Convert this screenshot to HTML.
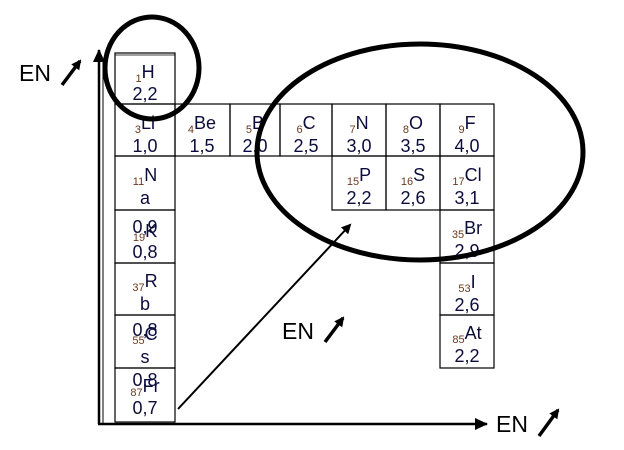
<!DOCTYPE html>
<html><head><style>html,body{margin:0;padding:0;background:#fff;width:624px;height:450px;overflow:hidden}</style></head>
<body>
<svg width="624" height="450" xmlns="http://www.w3.org/2000/svg" font-family="Liberation Sans, sans-serif">
<defs>
<marker id="ah" markerWidth="10" markerHeight="10" refX="8" refY="5" orient="auto" markerUnits="userSpaceOnUse"><path d="M0,0 L10,5 L0,10 z" fill="#000"/></marker>
<marker id="ah2" markerWidth="14" markerHeight="14" refX="12" refY="7" orient="auto" markerUnits="userSpaceOnUse"><path d="M0,1 L13,7 L0,13 z" fill="#000"/></marker>
</defs>
<line x1="99" y1="424" x2="99" y2="50" stroke="#000" stroke-width="2.5" marker-end="url(#ah2)"/>
<line x1="103" y1="424" x2="103" y2="60" stroke="#000" stroke-width="1"/>
<line x1="98" y1="424" x2="487" y2="424" stroke="#000" stroke-width="2.5" marker-end="url(#ah2)"/>
<g fill="none" stroke="#000" stroke-width="1.2">
<rect x="115" y="53" width="60" height="51"/>
<line x1="115" y1="55" x2="175" y2="55" stroke-width="0.7"/>
<rect x="115" y="104" width="60" height="52"/>
<rect x="175" y="104" width="55" height="52"/>
<rect x="230" y="104" width="50" height="52"/>
<rect x="280" y="104" width="52" height="52"/>
<rect x="332" y="104" width="54" height="52"/>
<rect x="386" y="104" width="54" height="52"/>
<rect x="440" y="104" width="54" height="52"/>
<rect x="332" y="156" width="54" height="54"/>
<rect x="386" y="156" width="54" height="54"/>
<rect x="440" y="156" width="54" height="54"/>
<rect x="440" y="210" width="54" height="53"/>
<rect x="440" y="263" width="54" height="52"/>
<rect x="440" y="315" width="54" height="53"/>
<rect x="115" y="156" width="60" height="54"/>
<rect x="115" y="210" width="60" height="53"/>
<rect x="115" y="263" width="60" height="52"/>
<rect x="115" y="315" width="60" height="53"/>
<rect x="115" y="368" width="60" height="54"/>
</g>
<g font-size="18" fill="#0c0c3c" text-anchor="middle">
<text x="145" y="78"><tspan font-size="11" fill="#6a3a20" dy="4">1</tspan><tspan dy="-4">H</tspan></text><text x="145" y="100">2,2</text>
<text x="145" y="129"><tspan font-size="11" fill="#6a3a20" dy="4">3</tspan><tspan dy="-4">Li</tspan></text><text x="145" y="152">1,0</text>
<text x="202" y="129"><tspan font-size="11" fill="#6a3a20" dy="4">4</tspan><tspan dy="-4">Be</tspan></text><text x="202" y="152">1,5</text>
<text x="255" y="129"><tspan font-size="11" fill="#6a3a20" dy="4">5</tspan><tspan dy="-4">B</tspan></text><text x="255" y="152">2,0</text>
<text x="306" y="129"><tspan font-size="11" fill="#6a3a20" dy="4">6</tspan><tspan dy="-4">C</tspan></text><text x="306" y="152">2,5</text>
<text x="359" y="129"><tspan font-size="11" fill="#6a3a20" dy="4">7</tspan><tspan dy="-4">N</tspan></text><text x="359" y="152">3,0</text>
<text x="413" y="129"><tspan font-size="11" fill="#6a3a20" dy="4">8</tspan><tspan dy="-4">O</tspan></text><text x="413" y="152">3,5</text>
<text x="467" y="129"><tspan font-size="11" fill="#6a3a20" dy="4">9</tspan><tspan dy="-4">F</tspan></text><text x="467" y="152">4,0</text>
<text x="359" y="181"><tspan font-size="11" fill="#6a3a20" dy="4">15</tspan><tspan dy="-4">P</tspan></text><text x="359" y="204">2,2</text>
<text x="413" y="181"><tspan font-size="11" fill="#6a3a20" dy="4">16</tspan><tspan dy="-4">S</tspan></text><text x="413" y="204">2,6</text>
<text x="467" y="181"><tspan font-size="11" fill="#6a3a20" dy="4">17</tspan><tspan dy="-4">Cl</tspan></text><text x="467" y="204">3,1</text>
<text x="467" y="234"><tspan font-size="11" fill="#6a3a20" dy="4">35</tspan><tspan dy="-4">Br</tspan></text><text x="467" y="257">2,9</text>
<text x="467" y="288"><tspan font-size="11" fill="#6a3a20" dy="4">53</tspan><tspan dy="-4">I</tspan></text><text x="467" y="311">2,6</text>
<text x="467" y="339"><tspan font-size="11" fill="#6a3a20" dy="4">85</tspan><tspan dy="-4">At</tspan></text><text x="467" y="362">2,2</text>
<text x="145" y="181"><tspan font-size="11" fill="#6a3a20" dy="4">11</tspan><tspan dy="-4">N</tspan></text><text x="145" y="204">a</text>
<text x="145" y="233">0,9</text><text x="145" y="237"><tspan font-size="11" fill="#6a3a20" dy="4">19</tspan><tspan dy="-4">K</tspan></text><text x="145" y="258">0,8</text>
<text x="145" y="287"><tspan font-size="11" fill="#6a3a20" dy="4">37</tspan><tspan dy="-4">R</tspan></text><text x="145" y="310">b</text>
<text x="145" y="336">0,8</text><text x="145" y="340"><tspan font-size="11" fill="#6a3a20" dy="4">55</tspan><tspan dy="-4">C</tspan></text><text x="145" y="363">s</text>
<text x="145" y="386">0,8</text><text x="145" y="392"><tspan font-size="11" fill="#6a3a20" dy="4">87</tspan><tspan dy="-4">Fr</tspan></text><text x="145" y="414">0,7</text>
</g>
<ellipse cx="152" cy="68" rx="47" ry="51" fill="none" stroke="#000" stroke-width="5"/>
<ellipse cx="420" cy="152" rx="163" ry="108" fill="none" stroke="#000" stroke-width="5"/>
<line x1="178" y1="409" x2="350" y2="225" stroke="#000" stroke-width="2" marker-end="url(#ah)"/>
<g font-size="23" fill="#000">
<text x="19" y="81">EN</text>
<text x="282" y="339">EN</text>
<text x="496" y="432">EN</text>
</g>
<g stroke="#000" stroke-width="3.5">
<line x1="62" y1="85" x2="80" y2="61" marker-end="url(#ah)"/>
<line x1="325" y1="342" x2="343" y2="318" marker-end="url(#ah)"/>
<line x1="539" y1="436" x2="558" y2="410" marker-end="url(#ah)"/>
</g>
</svg>
</body></html>
